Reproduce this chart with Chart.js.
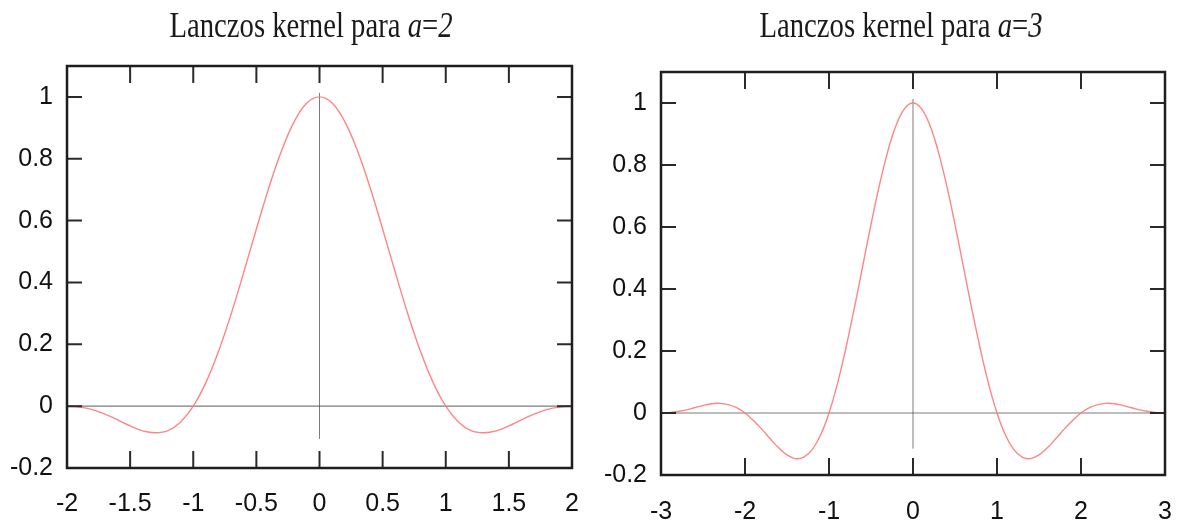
<!DOCTYPE html>
<html>
<head>
<meta charset="utf-8">
<script src="https://cdn.jsdelivr.net/npm/chart.js@4.4.1/dist/chart.umd.min.js"></script>
<style>
  body { margin: 0; background: #fff; width: 1188px; height: 520px; position: relative; overflow: hidden; }
  .box { position: absolute; top: 0; width: 594px; height: 520px; }
  .title { position: absolute; top: 6px; font-family: 'Liberation Serif', 'Times New Roman', serif; font-size: 35px;
           color: #1a1a1a; white-space: nowrap; transform: translateX(-50%) scaleX(0.82); }
</style>
</head>
<body>
<div class="box" style="left:0"><canvas id="k2"></canvas></div>
<div class="box" style="left:594px"><canvas id="k3"></canvas></div>
<div class="title" style="left:311px">Lanczos kernel para <i>a</i>=<i>2</i></div>
<div class="title" style="left:901px">Lanczos kernel para <i>a</i>=<i>3</i></div>
<script>
// tick labels
const yTicks = [-0.2, 0, 0.2, 0.4, 0.6, 0.8, 1]
const xTicks2 = [-2, -1.5, -1, -0.5, 0, 0.5, 1, 1.5, 2]
const xTicks3 = [-3, -2, -1, 0, 1, 2, 3]

// a=2 curve
const x2 = [-2.0, -1.9, -1.8, -1.7, -1.6, -1.5, -1.4, -1.3, -1.2, -1.1, -1.0, -0.9, -0.8, -0.7, -0.6, -0.5, -0.4, -0.3, -0.2, -0.1,
  0, 0.1, 0.2, 0.3, 0.4, 0.5, 0.6, 0.7, 0.8, 0.9, 1.0, 1.1, 1.2, 1.3, 1.4, 1.5, 1.6, 1.7, 1.8, 1.9, 2.0]
const y2 = [0, -0.003, -0.011, -0.026, -0.044, -0.064, -0.080, -0.086, -0.079, -0.051, 0, 0.076, 0.177, 0.298, 0.433, 0.573, 0.708, 0.827, 0.920, 0.980,
  1, 0.980, 0.920, 0.827, 0.708, 0.573, 0.433, 0.298, 0.177, 0.076, 0, -0.051, -0.079, -0.086, -0.080, -0.064, -0.044, -0.026, -0.011, -0.003, 0]

// a=3 curve
const x3 = [-3.0, -2.9, -2.8, -2.7, -2.6, -2.5, -2.4, -2.3, -2.2, -2.1, -2.0, -1.9, -1.8, -1.7, -1.6, -1.5, -1.4, -1.3, -1.2, -1.1,
  -1.0, -0.9, -0.8, -0.7, -0.6, -0.5, -0.4, -0.3, -0.2, -0.1, 0, 0.1, 0.2, 0.3, 0.4, 0.5, 0.6, 0.7, 0.8, 0.9,
  1.0, 1.1, 1.2, 1.3, 1.4, 1.5, 1.6, 1.7, 1.8, 1.9, 2.0, 2.1, 2.2, 2.3, 2.4, 2.5, 2.6, 2.7, 2.8, 2.9, 3.0]
const y3 = [0, 0.001, 0.005, 0.010, 0.017, 0.024, 0.030, 0.031, 0.027, 0.017, 0, -0.024, -0.052, -0.083, -0.112, -0.135, -0.147, -0.142, -0.118, -0.071,
  0, 0.094, 0.208, 0.336, 0.472, 0.608, 0.735, 0.844, 0.929, 0.982, 1, 0.982, 0.929, 0.844, 0.735, 0.608, 0.472, 0.336, 0.208, 0.094,
  0, -0.071, -0.118, -0.142, -0.147, -0.135, -0.112, -0.083, -0.052, -0.024, 0, 0.017, 0.027, 0.031, 0.030, 0.024, 0.017, 0.010, 0.005, 0.001, 0]

const tickFont = { family: "'Liberation Sans', Arial, sans-serif", size: 25 }

// box round the plot with the ticks pointing inwards
const frame = {
  id: 'frame',
  afterDatasetsDraw(chart) {
    const { ctx, chartArea: a, scales: { x, y } } = chart
    ctx.save()
    ctx.strokeStyle = '#2a2a2a'
    ctx.lineWidth = 2
    ctx.beginPath()
    x.ticks.forEach(t => {
      const px = x.getPixelForValue(t.value)
      ctx.moveTo(px, a.bottom); ctx.lineTo(px, a.bottom - 17)
      ctx.moveTo(px, a.top); ctx.lineTo(px, a.top + 17)
    })
    y.ticks.forEach(t => {
      const py = y.getPixelForValue(t.value)
      ctx.moveTo(a.left, py); ctx.lineTo(a.left + 15, py)
      ctx.moveTo(a.right, py); ctx.lineTo(a.right - 15, py)
    })
    ctx.stroke()
    ctx.lineWidth = 2.5
    ctx.strokeStyle = '#1e1e1e'
    ctx.strokeRect(a.left, a.top, a.width, a.height)
    ctx.restore()
  }
}

function makeChart(id, xs, ys, xTicks, vLow, pad, xHeight, xPad) {
  const lo = xTicks[0], hi = xTicks[xTicks.length - 1]
  return new Chart(document.getElementById(id), {
    type: 'scatter',
    data: {
      datasets: [
        {
          data: xs.map((v, i) => ({ x: v, y: ys[i] })),
          showLine: true, borderColor: 'rgba(255,120,120,0.9)', borderWidth: 1.4,
          pointRadius: 0, tension: 0.4
        },
        {
          data: [{ x: lo, y: 0 }, { x: hi, y: 0 }],
          showLine: true, borderColor: 'rgba(80,80,80,0.75)', borderWidth: 1.2, pointRadius: 0
        },
        {
          data: [{ x: 0, y: vLow }, { x: 0, y: 1.013 }],
          showLine: true, borderColor: 'rgba(80,80,80,0.75)', borderWidth: 1, pointRadius: 0
        }
      ]
    },
    options: {
      responsive: true,
      maintainAspectRatio: false,
      animation: false,
      layout: { padding: pad },
      plugins: { legend: { display: false }, tooltip: { enabled: false }, title: { display: false } },
      scales: {
        x: {
          type: 'linear', min: lo, max: hi,
          afterBuildTicks: s => { s.ticks = xTicks.map(v => ({ value: v })) },
          afterFit: s => { s.height = xHeight; s.paddingLeft = 0; s.paddingRight = 0 },
          grid: { display: false, drawTicks: false }, border: { display: false },
          ticks: { font: tickFont, color: '#111', padding: xPad, maxRotation: 0, autoSkip: false, callback: v => String(v) }
        },
        y: {
          type: 'linear', min: -0.2, max: 1.1,
          afterBuildTicks: s => { s.ticks = yTicks.map(v => ({ value: v })) },
          afterFit: s => { s.width = 67; s.paddingTop = 0; s.paddingBottom = 0 },
          grid: { display: false, drawTicks: false }, border: { display: false },
          ticks: { font: tickFont, color: '#111', padding: 14, autoSkip: false, callback: v => String(v) }
        }
      }
    },
    plugins: [frame]
  })
}

makeChart('k2', x2, y2, xTicks2, -0.106, { top: 66, right: 22, left: 0, bottom: 0 }, 52, 21)
makeChart('k3', x3, y3, xTicks3, -0.115, { top: 72, right: 23, left: 0, bottom: 0 }, 45, 22)
</script>
</body>
</html>
